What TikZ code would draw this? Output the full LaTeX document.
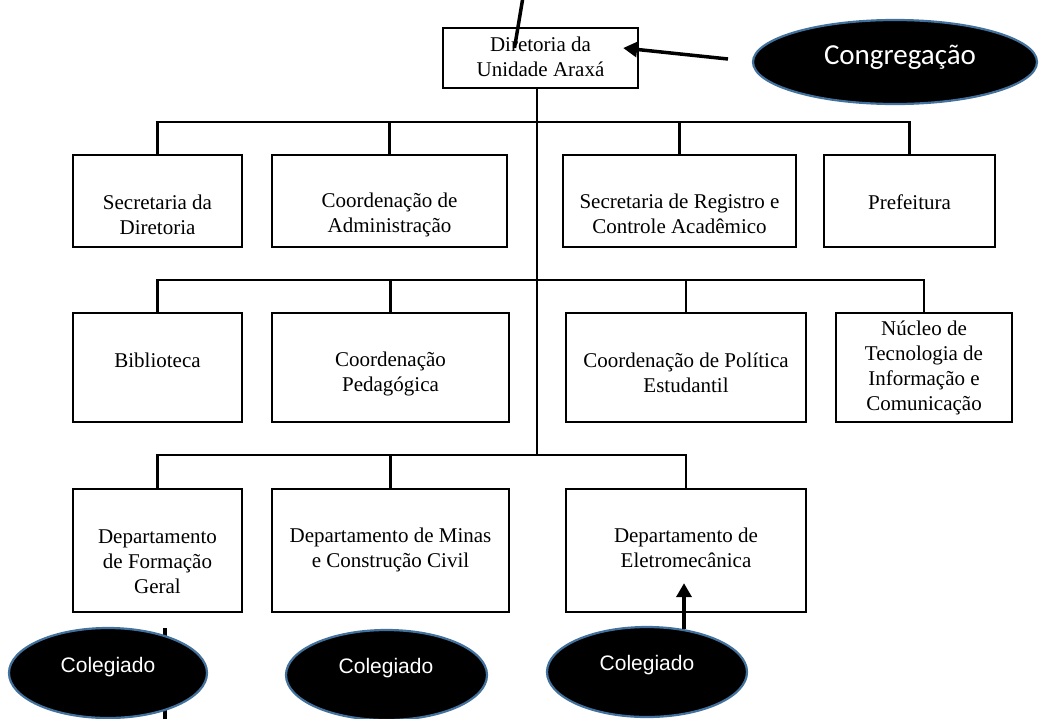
\documentclass[tikz,border=0pt]{standalone}
\usepackage{fontspec}
\setmainfont{Liberation Serif}
\newfontfamily\arialf{Liberation Sans}
\newfontfamily\calibf{Carlito}
\usetikzlibrary{shapes.geometric,arrows.meta,calc}
\definecolor{ellborder}{RGB}{65,113,156}
\begin{document}
\begin{tikzpicture}[x=1pt,y=-1pt,
  box/.style={draw, line width=2.3pt, rectangle, inner sep=0pt},
  txt/.style={font=\fontsize{21}{25}\selectfont, align=center, inner sep=0pt},
  conn/.style={line width=2.3pt},
  arr/.style={line width=3.5pt, -{Triangle[length=14pt,width=15pt]}},
  ell/.style={ellipse, draw=ellborder, line width=2.2pt, fill=black, inner sep=0pt},
  etxt/.style={text=white, inner sep=0pt, font=\arialf\fontsize{21}{25}\selectfont},
]
\path[use as bounding box] (0,0) rectangle (1041,718);

% boxes
\node[box, minimum width=195pt, minimum height=60pt] (top) at (540.5,58) {};
\node[box, minimum width=169pt, minimum height=92pt] (s1) at (157.5,201) {};
\node[box, minimum width=235pt, minimum height=92pt] (s2) at (389.5,201) {};
\node[box, minimum width=233pt, minimum height=92pt] (s3) at (679.5,201) {};
\node[box, minimum width=171pt, minimum height=92pt] (s4) at (909.5,201) {};
\node[box, minimum width=169pt, minimum height=109pt] (b1) at (157.5,367.5) {};
\node[box, minimum width=237pt, minimum height=109pt] (b2) at (390.5,367.5) {};
\node[box, minimum width=240pt, minimum height=109pt] (b3) at (686,367.5) {};
\node[box, minimum width=176pt, minimum height=109pt] (b4) at (924,367.5) {};
\node[box, minimum width=169pt, minimum height=123pt] (d1) at (157.5,550.5) {};
\node[box, minimum width=237pt, minimum height=123pt] (d2) at (390.5,550.5) {};
\node[box, minimum width=240pt, minimum height=123pt] (d3) at (686,550.5) {};

% texts
\node[txt] (ttop) at (540.5,57) {Diretoria da\\Unidade Araxá};
\node[txt] (ts1) at (157.5,215) {Secretaria da\\Diretoria};
\node[txt] (ts2) at (389.5,215) {Coordenação de\\Administração};
\node[txt] (ts3) at (679.5,214) {Secretaria de Registro e\\Controle Acadêmico};
\node[txt] (ts4) at (909.5,202) {Prefeitura};
\node[txt] (tb1) at (157.5,360) {Biblioteca};
\node[txt] (tb2) at (390.5,373.5) {Coordenação\\Pedagógica};
\node[txt] (tb3) at (686,373) {Coordenação de Política\\Estudantil};
\node[txt] (tb4) at (924,367.5) {Núcleo de\\Tecnologia de\\Informação e\\Comunicação};
\node[txt] (td1) at (157.5,561.5) {Departamento\\de Formação\\Geral};
\node[txt] (td2) at (390.5,550) {Departamento de Minas\\e Construção Civil};
\node[txt] (td3) at (686,547.5) {Departamento de\\Eletromecânica};

% trunk and buses
\coordinate (j1) at (537,122);
\coordinate (j2) at (537,280);
\coordinate (j3) at (537,455);
\draw[conn] (top.south -| j1) -- (j3);
\foreach \n in {s1,s2,s3,s4} \draw[conn] (\n.north) |- (j1);
\foreach \n in {b1,b2,b3,b4} \draw[conn] (\n.north) |- (j2);
\foreach \n in {d1,d2,d3} \draw[conn] (\n.north) |- (j3);

% stray line behind first colegiado
\coordinate (tk) at (165,722);
\draw[line width=3.5pt] (tk) -- ++(0,-94);

% ellipses
\node[ell, minimum width=284pt, minimum height=84pt] (cg) at (895,62) {};
\node[etxt, font=\calibf\fontsize{29}{32}\selectfont] (tcg) at (900,57) {Congregação};
\node[ell, minimum width=198pt, minimum height=90pt] (c1) at (108,673) {};
\node[ell, minimum width=201pt, minimum height=90pt] (c2) at (386.5,675) {};
\node[ell, minimum width=200pt, minimum height=90pt] (c3) at (647,672) {};
\node[etxt] (tc1) at (108,667) {Colegiado};
\node[etxt] (tc2) at (386,668) {Colegiado};
\node[etxt] (tc3) at (647,665) {Colegiado};

% arrows and lines
\coordinate (topfree) at (523,-3);
\draw[line width=3.5pt] (topfree) -- ($(top.north)+(-26,21)$);
\coordinate (cgtail) at (728,59);
\draw[arr] (cgtail) -- ($(top.east)+(-16,-10)$);
\coordinate (a3) at (684,629);
\draw[arr] (a3) -- ($(a3 |- d3.south)+(0,-30)$);
\end{tikzpicture}
\end{document}
